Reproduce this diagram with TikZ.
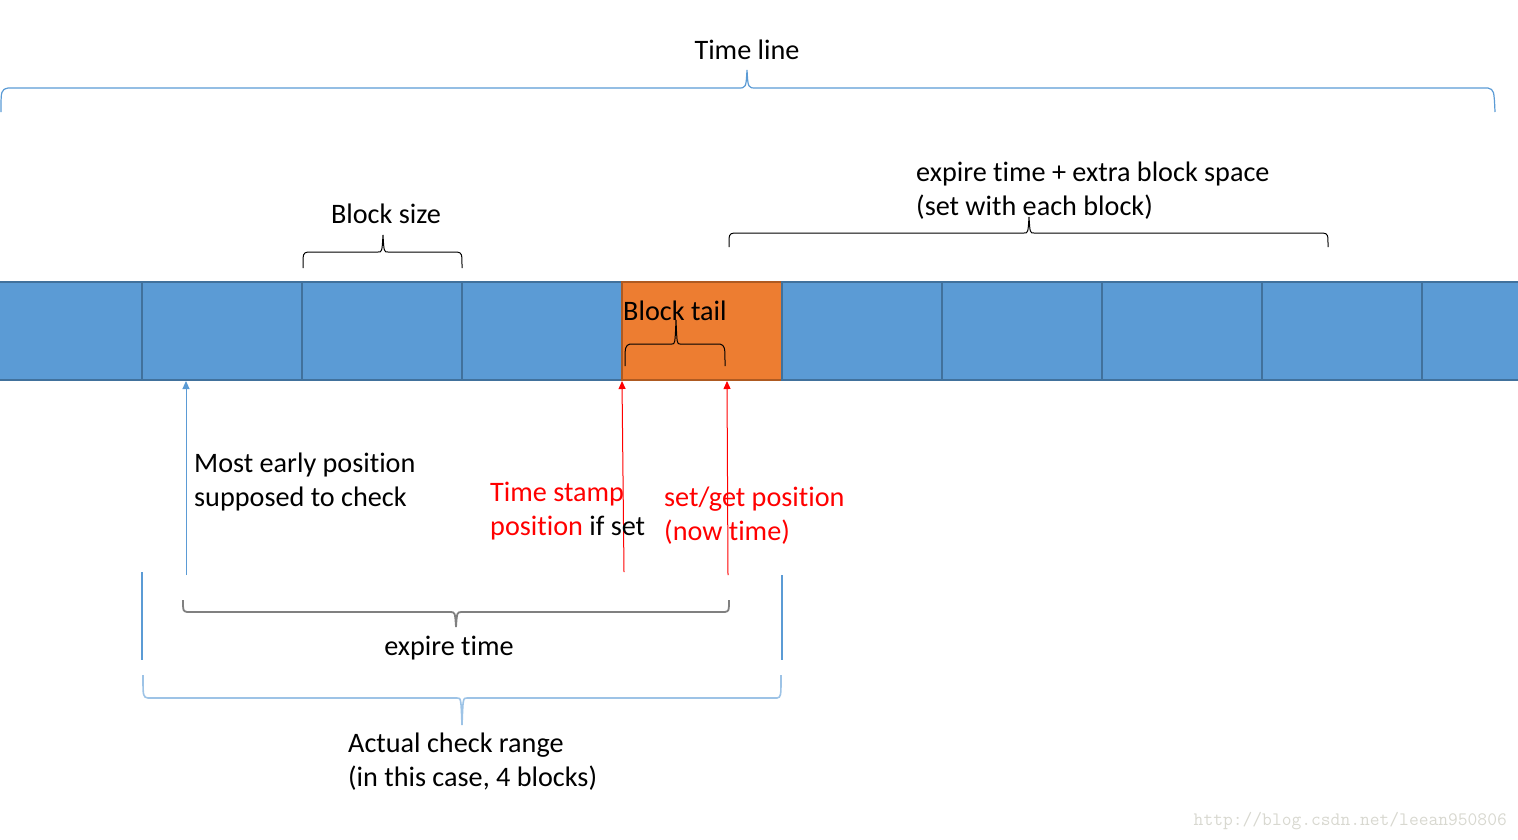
\documentclass[tikz,border=0pt]{standalone}
\usepackage{fontspec}
\setmainfont{Carlito}[Ligatures=NoCommon]
\usetikzlibrary{arrows.meta}
\definecolor{blockblue}{HTML}{5B9BD5}
\definecolor{blockedge}{HTML}{41719C}
\definecolor{tailorange}{HTML}{ED7D31}
\definecolor{tailedge}{HTML}{AE5A21}
\definecolor{lightbrace}{HTML}{9DC3E6}
\definecolor{markgray}{HTML}{D8D8D0}
\tikzset{
  blk/.style={draw=blockedge, line width=1.6pt, fill=blockblue, minimum height=98pt, inner sep=0pt, outer sep=0pt},
  tailblk/.style={draw=tailedge, line width=1.6pt, fill=tailorange, minimum height=98pt, minimum width=160pt, inner sep=0pt, outer sep=0pt},
  lbl/.style={font=\fontsize{28.2}{34}\selectfont, inner sep=0pt},
  redlbl/.style={lbl, text=red},
  upbrace/.style={line width=1pt},
  ptr/.style={-{Triangle[length=8pt,width=7pt]}, line width=1pt},
}
\begin{document}
\begin{tikzpicture}[x=1pt,y=-1pt]
\useasboundingbox (0,0) rectangle (1518,839);
% blocks
\node[blk, minimum width=144pt, anchor=north west] (b0) at (-2,282) {};
\node[blk, minimum width=160pt, anchor=north west] (b1) at (142,282) {};
\node[blk, minimum width=160pt, anchor=north west] (b2) at (302,282) {};
\node[blk, minimum width=160pt, anchor=north west] (b3) at (462,282) {};
\node[tailblk, anchor=north west] (b4) at (622,282) {};
\node[blk, minimum width=160pt, anchor=north west] (b5) at (782,282) {};
\node[blk, minimum width=160pt, anchor=north west] (b6) at (942,282) {};
\node[blk, minimum width=160pt, anchor=north west] (b7) at (1102,282) {};
\node[blk, minimum width=160pt, anchor=north west] (b8) at (1262,282) {};
\node[blk, minimum width=100pt, anchor=north west] (b9) at (1422,282) {};

% Time line brace (blue)
\draw[blockblue, line width=1.2pt]
  (1,112) .. controls (1,90) .. (8,88) -- (738,88) .. controls (746,88) .. (747,70)
  .. controls (748,88) .. (756,88) -- (1488,88) .. controls (1494,90) .. (1495,112);
\node[lbl, anchor=base] (tl) at (747,59) {Time line};

% Block size brace
\draw[black, upbrace]
  (303,268) .. controls (303,253) .. (308,252) -- (378,252) .. controls (382,252) .. (383,235)
  .. controls (384,252) .. (388,252) -- (457,252) .. controls (462,253) .. (462,268);
\node[lbl, anchor=base] (bs) at (386,223) {Block size};

% expire time + extra brace
\draw[black, upbrace]
  (729,247) .. controls (729,234) .. (734,233) -- (1024,233) .. controls (1028,233) .. (1029,217)
  .. controls (1030,233) .. (1034,233) -- (1323,233) .. controls (1328,234) .. (1328,247);
\node[lbl, anchor=base west] (ex1) at (916,181) {expire time + extra block space};
\node[lbl, anchor=base west] (ex2) at (916,215) {(set with each block)};

% Block tail
\node[lbl, anchor=base west] (bt) at (623,320) {Block tail};
\draw[black, upbrace]
  (625,366) .. controls (625,346) .. (630,344) -- (672,344) .. controls (675,344) .. (676,320)
  .. controls (677,344) .. (680,344) -- (720,344) .. controls (725,346) .. (725,366);

% arrows
\coordinate (a1) at (186,575);
\coordinate (a1t) at (186,381);
\coordinate (a2) at (624,572);
\coordinate (a2t) at (622,381);
\coordinate (a3) at (728,575);
\coordinate (a3t) at (727,381);
\draw[ptr, blockblue] (a1) -- (a1t);
\draw[ptr, red] (a2) -- (a2t);
\draw[ptr, red] (a3) -- (a3t);

% labels below
\node[lbl, anchor=base west] (me1) at (194,472) {Most early position};
\node[lbl, anchor=base west] (me2) at (194,506) {supposed to check};
\node[redlbl, anchor=base west] (ts1) at (490,501) {Time stamp};
\node[lbl, anchor=base west] (ts2) at (490,535) {\textcolor{red}{position} if set};
\node[redlbl, anchor=base west] (sg1) at (664,506) {set/get position};
\node[redlbl, anchor=base west] (sg2) at (664,540) {(now time)};

% expire time brace (gray)
\draw[gray, line width=1.8pt]
  (183,600) .. controls (183,611) .. (187,612) -- (450,612) .. controls (455,612) .. (456,627)
  .. controls (457,612) .. (462,612) -- (725,612) .. controls (729,611) .. (729,600);
\node[lbl, anchor=base] (et) at (449,655) {expire time};

% vertical blue guide lines
\coordinate (v1a) at (142,572);
\coordinate (v1b) at (142,660);
\coordinate (v2a) at (782,575);
\coordinate (v2b) at (782,660);
\draw[blockblue, line width=1.2pt] (v1a) -- (v1b);
\draw[blockblue, line width=1.2pt] (v2a) -- (v2b);

% Actual check range brace
\draw[lightbrace, line width=1.6pt]
  (143,675) .. controls (143,697) .. (148,698) -- (457,698) .. controls (461,698) .. (462,725)
  .. controls (463,698) .. (467,698) -- (777,698) .. controls (781,697) .. (781,675);
\node[lbl, anchor=base west] (ac1) at (348,752) {Actual check range};
\node[lbl, anchor=base west] (ac2) at (348,786) {(in this case, 4 blocks)};

% watermark
\node[font=\fontsize{19}{19}\ttfamily, text=markgray, anchor=base east, inner sep=0pt] (wm) at (1507,825) {http://blog.csdn.net/leean950806};
\end{tikzpicture}
\end{document}
